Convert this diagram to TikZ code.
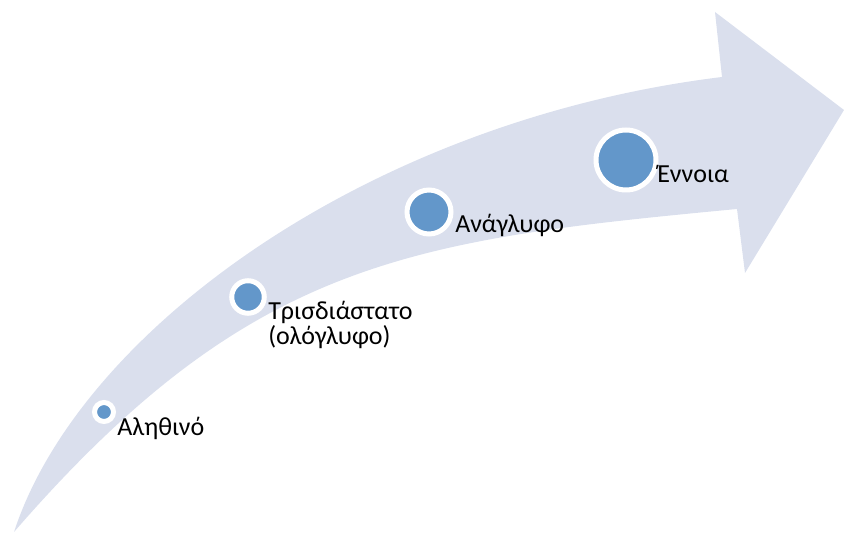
\documentclass[tikz,border=0pt]{standalone}
\usepackage{fontspec}
\setmainfont{Carlito}
\definecolor{band}{HTML}{DADFED}
\definecolor{dot}{HTML}{6397CA}
\begin{document}
\begin{tikzpicture}[x=0.75pt,y=-0.75pt,
  dotnode/.style={circle,fill=dot,draw=white,line width=3.75pt,inner sep=0pt,minimum size=#1},
  lbl/.style={anchor=base west,inner sep=0pt,font=\fontsize{19.5}{18.75}\selectfont,align=left}]
\useasboundingbox (0,0) rectangle (844,534);
\fill[band] (14,532) .. controls (80,330) and (370,120) .. (722,77) -- (715,12) -- (844,110) -- (745,273) -- (737,209) .. controls (410,240) and (250,260) .. (14,532) -- cycle;
\node[dotnode=14.25pt] (n1) at (104,412) {};
\node[dotnode=24.4pt] (n2) at (248,297) {};
\node[dotnode=33pt] (n3) at (429,212) {};
\node[dotnode=45pt] (n4) at (626,160) {};
\node[lbl] (t1) at (117,436) {Αληθινό};
\node[lbl] (t2) at (268,345) {Τρισδιάστατο\\(ολόγλυφο)};
\node[lbl] (t3) at (455,233) {Ανάγλυφο};
\node[lbl] (t4) at (657,183) {Έννοια};
\end{tikzpicture}
\end{document}
